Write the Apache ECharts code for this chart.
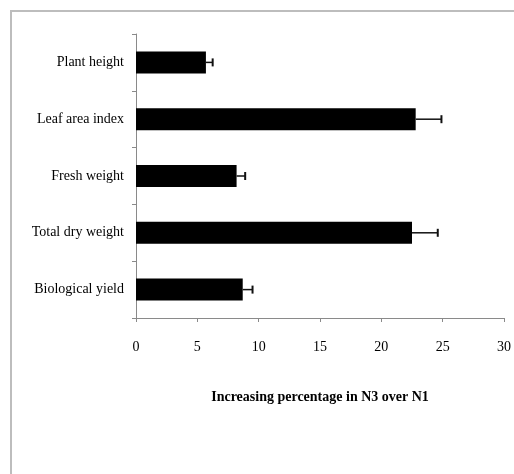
<!DOCTYPE html>
<html>
<head>
<meta charset="utf-8">
<script src="https://cdn.jsdelivr.net/npm/echarts@6/dist/echarts.min.js"></script>
<style>html,body{margin:0;padding:0;background:#fff;}#c{width:514px;height:474px;}</style>
</head>
<body>
<div id="c"></div>
<script>
var categories = ['Plant height', 'Leaf area index', 'Fresh weight', 'Total dry weight', 'Biological yield'];
var values = [5.7, 22.8, 8.2, 22.5, 8.7];
var errors = [0.55, 2.1, 0.7, 2.1, 0.8];
var xTicks = [0, 5, 10, 15, 20, 25, 30];

var chart = echarts.init(document.getElementById('c'), null, {renderer: 'canvas'});
var errData = values.map(function (v, i) { return [v, i, v + errors[i]]; });
var font = '"Liberation Serif", "Times New Roman", serif';
chart.setOption({
  backgroundColor: '#fff',
  animation: false,
  graphic: [{
    type: 'rect', shape: {x: 11, y: 11, width: 600, height: 600},
    style: {fill: 'none', stroke: '#bdbdbd', lineWidth: 2}, silent: true
  }],
  grid: {left: 136, right: 8, top: 34, height: 284, containLabel: false},
  xAxis: {
    type: 'value', min: xTicks[0], max: xTicks[xTicks.length - 1], interval: 5,
    name: 'Increasing percentage in N3 over N1', nameLocation: 'middle', nameGap: 72,
    nameTextStyle: {fontFamily: font, fontSize: 14, fontWeight: 'bold', color: '#000'},
    axisLine: {show: true, lineStyle: {color: '#8a8a8a', width: 1}},
    axisTick: {show: true, length: 4, lineStyle: {color: '#8a8a8a'}},
    axisLabel: {fontFamily: font, fontSize: 14, color: '#000', margin: 22},
    splitLine: {show: false}
  },
  yAxis: {
    type: 'category', data: categories, inverse: true,
    axisLine: {show: true, lineStyle: {color: '#8a8a8a', width: 1}},
    axisTick: {show: true, length: 4, lineStyle: {color: '#8a8a8a'}},
    axisLabel: {fontFamily: font, fontSize: 14, color: '#000', margin: 12},
    splitLine: {show: false}
  },
  series: [{
    type: 'bar', data: values, barWidth: 22,
    itemStyle: {color: '#000'}
  }, {
    type: 'custom', data: errData, z: 5,
    encode: {x: [0, 2], y: 1},
    renderItem: function (params, api) {
      var p0 = api.coord([api.value(0), api.value(1)]);
      var p1 = api.coord([api.value(2), api.value(1)]);
      var h = 4;
      return {
        type: 'group',
        children: [
          {type: 'line', shape: {x1: p0[0], y1: p0[1], x2: p1[0], y2: p1[1]}, style: {stroke: '#111', lineWidth: 1.5}},
          {type: 'line', shape: {x1: p1[0], y1: p1[1] - h, x2: p1[0], y2: p1[1] + h}, style: {stroke: '#111', lineWidth: 2}}
        ]
      };
    }
  }]
});
</script>
</body>
</html>
